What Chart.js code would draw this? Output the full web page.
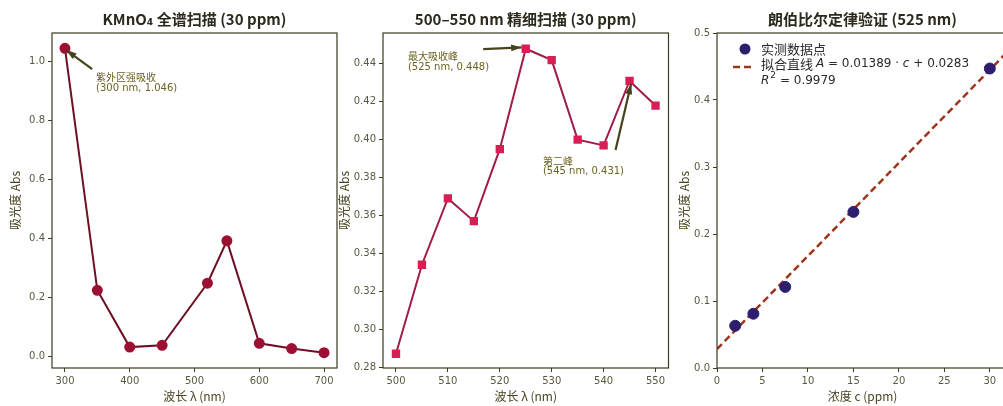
<!DOCTYPE html>
<html>
<head>
<meta charset="utf-8">
<script src="https://cdn.jsdelivr.net/npm/chart.js@4.4.1/dist/chart.umd.min.js"></script>
<style>
  html, body { margin: 0; padding: 0; background: #fff; overflow: hidden; }
  body { width: 1003px; height: 406px; position: relative; }
  .panel { position: absolute; top: 0; height: 406px; }
</style>
</head>
<body>
<div class="panel" style="left:0;width:345px"><canvas id="scan"></canvas></div>
<div class="panel" style="left:335px;width:340px"><canvas id="fine"></canvas></div>
<div class="panel" style="left:675px;width:340px"><canvas id="beer"></canvas></div>
<script>
// full scan, 30 ppm
const scanWl = [300, 350, 400, 450, 520, 550, 600, 650, 700];
const scanAbs = [1.046, 0.224, 0.031, 0.037, 0.248, 0.392, 0.044, 0.026, 0.012];
const scanXTicks = [300, 400, 500, 600, 700];
const scanYTicks = [0.0, 0.2, 0.4, 0.6, 0.8, 1.0];

// fine scan 500-550 nm
const fineWl = [500, 505, 510, 515, 520, 525, 530, 535, 540, 545, 550];
const fineAbs = [0.287, 0.334, 0.369, 0.357, 0.395, 0.448, 0.442, 0.400, 0.397, 0.431, 0.418];
const fineXTicks = [500, 510, 520, 530, 540, 550];
const fineYTicks = [0.28, 0.30, 0.32, 0.34, 0.36, 0.38, 0.40, 0.42, 0.44];

// Beer-Lambert check at 525 nm
const conc = [2, 4, 7.5, 15, 30];
const concAbs = [0.063, 0.081, 0.121, 0.233, 0.447];
const fitC = [0, 32];
const fitAbs = [0.0283, 0.4728];
const beerXTicks = [0, 5, 10, 15, 20, 25, 30];
const beerYTicks = [0.0, 0.1, 0.2, 0.3, 0.4, 0.5];

const CJK = '"Noto Sans CJK SC", "DejaVu Sans", sans-serif';
const TICK_FONT = '"DejaVu Sans", "Noto Sans CJK SC", sans-serif';
const frameColor = '#3d3a22';
const labelColor = '#4a4422';
const noteColor = '#6b6322';

const framePlugin = {
    id: 'frame',
    afterDraw(chart) {
        const a = chart.chartArea, ctx = chart.ctx;
        ctx.save();
        ctx.strokeStyle = frameColor;
        ctx.lineWidth = 1.2;
        ctx.strokeRect(a.left, a.top, a.right - a.left, a.bottom - a.top);
        ctx.restore();
    }
};

const notesPlugin = {
    id: 'notes',
    afterDatasetsDraw(chart, args, opts) {
        const ctx = chart.ctx, xs = chart.scales.x, ys = chart.scales.y;
        (opts.items || []).forEach(n => {
            const x0 = xs.getPixelForValue(n.from[0]), y0 = ys.getPixelForValue(n.from[1]);
            const x1 = xs.getPixelForValue(n.to[0]), y1 = ys.getPixelForValue(n.to[1]);
            ctx.save();
            ctx.strokeStyle = '#45431c';
            ctx.fillStyle = '#45431c';
            ctx.lineWidth = 2.2;
            ctx.beginPath();
            ctx.moveTo(x0, y0);
            ctx.lineTo(x1, y1);
            ctx.stroke();
            const ang = Math.atan2(y1 - y0, x1 - x0);
            ctx.beginPath();
            ctx.moveTo(x1, y1);
            ctx.lineTo(x1 - 11 * Math.cos(ang - 0.32), y1 - 11 * Math.sin(ang - 0.32));
            ctx.lineTo(x1 - 11 * Math.cos(ang + 0.32), y1 - 11 * Math.sin(ang + 0.32));
            ctx.closePath();
            ctx.fill();
            ctx.fillStyle = noteColor;
            ctx.textBaseline = 'top';
            ctx.textAlign = 'left';
            const tx = xs.getPixelForValue(n.text[0]), ty = ys.getPixelForValue(n.text[1]);
            n.lines.forEach((l, i) => {
                ctx.font = (i === 0 ? '10px ' + CJK : '10px ' + TICK_FONT);
                ctx.fillText(l, tx, ty + i * 11);
            });
            ctx.restore();
        });
    }
};

const beerLegend = {
    id: 'beerLegend',
    afterDraw(chart) {
        const a = chart.chartArea, ctx = chart.ctx;
        const L = a.left, T = a.top;
        ctx.save();
        ctx.fillStyle = '#2e1f6e';
        ctx.beginPath();
        ctx.arc(L + 28, T + 16, 5.5, 0, Math.PI * 2);
        ctx.fill();
        ctx.strokeStyle = '#a3341c';
        ctx.lineWidth = 2.5;
        ctx.setLineDash([7, 4]);
        ctx.beginPath();
        ctx.moveTo(L + 16, T + 34);
        ctx.lineTo(L + 38, T + 34);
        ctx.stroke();
        ctx.setLineDash([]);
        ctx.fillStyle = '#2a2a2a';
        ctx.textBaseline = 'middle';
        ctx.font = '13px ' + CJK;
        ctx.fillText('实测数据点', L + 44, T + 16);
        let x = L + 44;
        const parts = [
            ['13px ' + CJK, '拟合直线 '],
            ['italic 12px "DejaVu Sans"', 'A'],
            ['12px "DejaVu Sans"', ' = 0.01389 · '],
            ['italic 12px "DejaVu Sans"', 'c'],
            ['12px "DejaVu Sans"', ' + 0.0283']
        ];
        parts.forEach(p => {
            ctx.font = p[0];
            ctx.fillText(p[1], x, T + 31);
            x += ctx.measureText(p[1]).width;
        });
        x = L + 44;
        ctx.font = 'italic 12px "DejaVu Sans"';
        ctx.fillText('R', x, T + 48);
        x += ctx.measureText('R').width;
        ctx.font = '9px "DejaVu Sans"';
        ctx.fillText('2', x + 1, T + 43);
        x += ctx.measureText('2').width + 1;
        ctx.font = '12px "DejaVu Sans"';
        ctx.fillText(' = 0.9979', x, T + 48);
        ctx.restore();
    }
};

function axes(xr, yr, xTicks, yTicks, xTitle, yw, xDec, yDec, yTitlePad) {
    const grid = { display: true, drawOnChartArea: false, drawTicks: true, tickLength: 4, color: frameColor };
    return {
        x: {
            type: 'linear', min: xr[0], max: xr[1],
            grid: grid, border: { display: false },
            afterBuildTicks: s => { s.ticks = xTicks.map(v => ({ value: v })); },
            afterFit: s => { s.height = 38; },
            ticks: { color: '#5a5840', font: { family: TICK_FONT, size: 10 }, padding: 3,
                     maxRotation: 0, callback: v => v.toFixed(xDec) },
            title: { display: true, text: xTitle, color: labelColor,
                     font: { family: CJK, size: 12 }, padding: { top: 0, bottom: 2 } }
        },
        y: {
            type: 'linear', min: yr[0], max: yr[1],
            grid: grid, border: { display: false },
            afterBuildTicks: s => { s.ticks = yTicks.map(v => ({ value: v })); },
            afterFit: s => { s.width = yw; },
            ticks: { color: '#5a5840', font: { family: TICK_FONT, size: 10 }, padding: 3,
                     callback: v => v.toFixed(yDec) },
            title: { display: true, text: '吸光度 Abs', color: labelColor,
                     font: { family: CJK, size: 12 }, padding: { top: yTitlePad, bottom: 0 } }
        }
    };
}

function titleOpt(text) {
    return { display: true, text: text, color: '#2b2a1c', fullSize: false,
             font: { family: CJK, size: 15, weight: 'bold' }, padding: { top: 10, bottom: 5 } };
}

Chart.defaults.animation = false;

new Chart(document.getElementById('scan'), {
    type: 'line',
    data: {
        datasets: [{
            data: scanWl.map((w, i) => ({ x: w, y: scanAbs[i] })),
            borderColor: '#6e0f22', borderWidth: 2,
            pointBackgroundColor: '#9b1033', pointBorderColor: '#9b1033',
            pointRadius: 4.5, tension: 0
        }]
    },
    options: {
        responsive: true, maintainAspectRatio: false, devicePixelRatio: 1,
        layout: { padding: { left: 0, right: 8, top: 0, bottom: 0 } },
        scales: axes([280, 720], [-0.04, 1.098], scanXTicks, scanYTicks, '波长 λ (nm)', 52, 0, 1, 8),
        plugins: {
            legend: { display: false }, tooltip: { enabled: false },
            title: titleOpt('KMnO₄ 全谱扫描 (30 ppm)'),
            notes: { items: [{ from: [342, 0.975], to: [302, 1.04], text: [348, 0.965],
                               lines: ['紫外区强吸收', '(300 nm, 1.046)'] }] }
        }
    },
    plugins: [framePlugin, notesPlugin]
});

new Chart(document.getElementById('fine'), {
    type: 'line',
    data: {
        datasets: [{
            data: fineWl.map((w, i) => ({ x: w, y: fineAbs[i] })),
            borderColor: '#a11d45', borderWidth: 2,
            pointStyle: 'rect',
            pointBackgroundColor: '#d81f55', pointBorderColor: '#d81f55',
            pointRadius: 4.5, tension: 0
        }]
    },
    options: {
        responsive: true, maintainAspectRatio: false, devicePixelRatio: 1,
        layout: { padding: { left: 0, right: 4, top: 0, bottom: 0 } },
        scales: axes([497.5, 552.5], [0.2795, 0.4563], fineXTicks, fineYTicks, '波长 λ (nm)', 48, 0, 2, 2),
        plugins: {
            legend: { display: false }, tooltip: { enabled: false },
            title: titleOpt('500–550 nm 精细扫描 (30 ppm)'),
            notes: { items: [
                { from: [516.8, 0.4478], to: [524.2, 0.4487], text: [502.3, 0.4465],
                  lines: ['最大吸收峰', '(525 nm, 0.448)'] },
                { from: [542.3, 0.3945], to: [545.3, 0.4295], text: [528.3, 0.3915],
                  lines: ['第二峰', '(545 nm, 0.431)'] }
            ] }
        }
    },
    plugins: [framePlugin, notesPlugin]
});

new Chart(document.getElementById('beer'), {
    type: 'scatter',
    data: {
        datasets: [{
            type: 'line',
            data: fitC.map((c, i) => ({ x: c, y: fitAbs[i] })),
            borderColor: '#a3341c', borderWidth: 2.5, borderDash: [7, 4],
            pointRadius: 0, order: 2
        }, {
            data: conc.map((c, i) => ({ x: c, y: concAbs[i] })),
            pointBackgroundColor: '#2e1f6e', pointBorderColor: '#2e1f6e',
            pointRadius: 5.5, order: 1
        }]
    },
    options: {
        responsive: true, maintainAspectRatio: false, devicePixelRatio: 1,
        layout: { padding: { left: 0, right: 7, top: 0, bottom: 0 } },
        scales: axes([0, 32], [0, 0.5], beerXTicks, beerYTicks, '浓度 c (ppm)', 42, 0, 1, 2),
        plugins: {
            legend: { display: false }, tooltip: { enabled: false },
            title: titleOpt('朗伯比尔定律验证 (525 nm)')
        }
    },
    plugins: [framePlugin, beerLegend]
});
</script>
</body>
</html>
